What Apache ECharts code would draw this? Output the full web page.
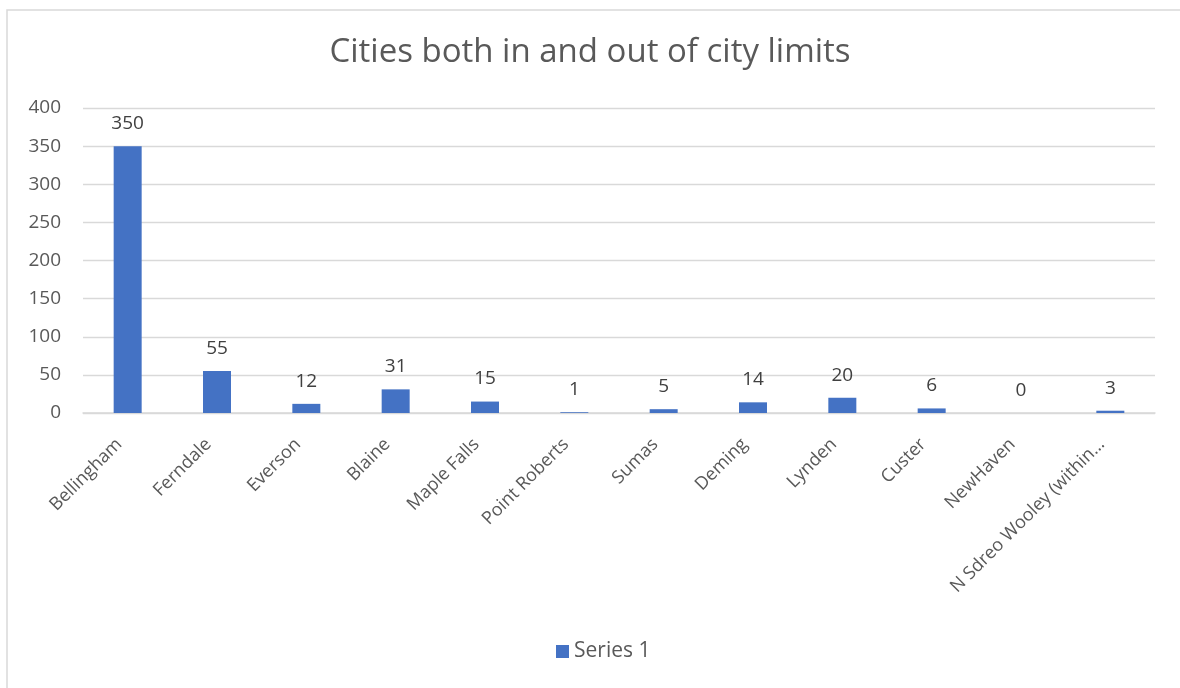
<!DOCTYPE html>
<html>
<head>
<meta charset="utf-8">
<script src="https://cdn.jsdelivr.net/npm/echarts@6/dist/echarts.min.js"></script>
<style>
  html, body { margin: 0; padding: 0; background: #fff; }
  #chart { width: 1180px; height: 688px; }
</style>
</head>
<body>
<div id="chart"></div>
<script>
var cities = ['Bellingham', 'Ferndale', 'Everson', 'Blaine', 'Maple Falls', 'Point Roberts',
  'Sumas', 'Deming', 'Lynden', 'Custer', 'NewHaven', 'N Sdreo Wooley (within\u2026'];
var counts = [350, 55, 12, 31, 15, 1, 5, 14, 20, 6, 0, 3];
var yTicks = [0, 50, 100, 150, 200, 250, 300, 350, 400];

var font = '"Open Sans", "Liberation Sans", sans-serif';
var chart = echarts.init(document.getElementById('chart'));

chart.setOption({
  animation: false,
  textStyle: { fontFamily: font },
  graphic: [{
    type: 'rect',
    shape: { x: 7, y: 10, width: 1190, height: 700 },
    style: { fill: 'none', stroke: '#d9d9d9', lineWidth: 1.5 },
    silent: true
  }],
  title: {
    text: 'Cities both in and out of city limits',
    left: 'center',
    top: 31,
    textStyle: { fontFamily: font, fontSize: 33, fontWeight: 'normal', color: '#595959' }
  },
  legend: {
    bottom: 21,
    left: 551,
    itemWidth: 13,
    itemHeight: 13,
    itemGap: 6,
    icon: 'rect',
    textStyle: { fontFamily: font, fontSize: 21, color: '#595959' },
    data: ['Series 1']
  },
  grid: { left: 83, right: 25, top: 108, bottom: 275, containLabel: false },
  xAxis: {
    type: 'category',
    data: cities,
    axisLine: { lineStyle: { color: '#d9d9d9', width: 1.5 } },
    axisTick: { show: false },
    axisLabel: {
      rotate: 45,
      interval: 0,
      margin: 20,
      padding: [0, 12, 0, 0],
      fontSize: 18,
      color: '#595959',
      fontFamily: font
    }
  },
  yAxis: {
    type: 'value',
    min: yTicks[0],
    max: yTicks[yTicks.length - 1],
    interval: 50,
    axisLine: { show: false },
    axisTick: { show: false },
    splitLine: { lineStyle: { color: '#d9d9d9', width: 1.3 } },
    axisLabel: { fontSize: 19, color: '#595959', margin: 22, fontFamily: font }
  },
  series: [{
    name: 'Series 1',
    type: 'bar',
    data: counts,
    barWidth: 28,
    itemStyle: { color: '#4472c4' },
    label: {
      show: true,
      position: 'top',
      distance: 13,
      fontSize: 19,
      color: '#404040',
      fontFamily: font
    }
  }]
});
</script>
</body>
</html>
